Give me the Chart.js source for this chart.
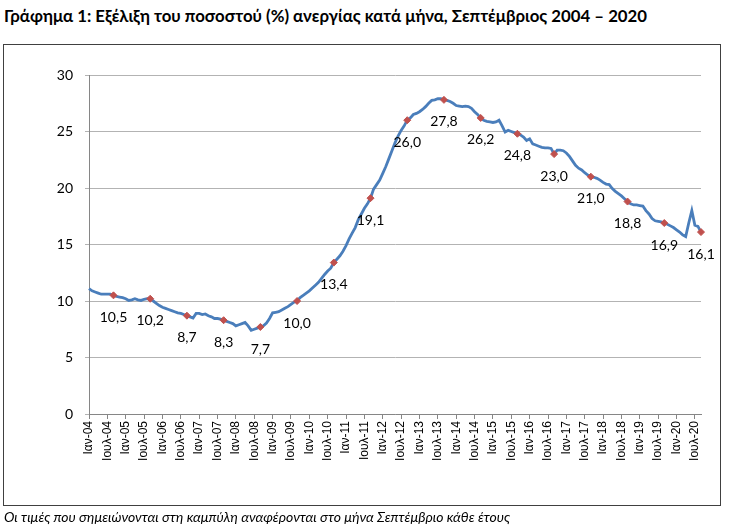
<!DOCTYPE html>
<html>
<head>
<meta charset="utf-8">
<script src="https://cdn.jsdelivr.net/npm/chart.js@4.4.1/dist/chart.umd.min.js"></script>
<style>
    html, body { margin: 0; padding: 0; background: #fff; }
    #wrap { position: relative; width: 731px; height: 530px; overflow: hidden; }
    #title {
        position: absolute; left: 4px; top: 5px;
        font: bold 16.8px Lato, "Open Sans", sans-serif; color: #000; white-space: nowrap;
    }
    #frame {
        position: absolute; left: 3px; top: 44px; width: 718px; height: 462px;
        border: 1px solid #404040; box-sizing: border-box;
    }
    #note {
        position: absolute; left: 4px; top: 508px;
        font: italic 14px Lato, "Open Sans", sans-serif; color: #000; white-space: nowrap;
    }
    canvas { position: absolute; left: 0; top: 0; }
</style>
</head>
<body>
<div id="wrap">
    <div id="title">Γράφημα 1: Εξέλιξη του ποσοστού (%) ανεργίας κατά μήνα, Σεπτέμβριος 2004 – 2020</div>
    <div id="frame"></div>
    <canvas id="lineChart" width="731" height="530"></canvas>
    <div id="note">Οι τιμές που σημειώνονται στη καμπύλη αναφέρονται στο μήνα Σεπτέμβριο κάθε έτους</div>
</div>
<script>
const monthNames = ["Ιαν", "Φεβ", "Μαρ", "Απρ", "Μαϊ", "Ιουν", "Ιουλ", "Αυγ", "Σεπ", "Οκτ", "Νοε", "Δεκ"];
const firstYear = 2004;

// monthly unemployment rate (%), Jan 2004 - Sep 2020
const rates = [
    11.1, 10.9, 10.8, 10.7, 10.6, 10.6, 10.6, 10.6, 10.5, 10.4, 10.35, 10.3,     // 2004
    10.2, 10.05, 10.1, 10.2, 10.1, 10.05, 10.15, 10.2, 10.2, 10.0, 9.8, 9.6,     // 2005
    9.45, 9.35, 9.25, 9.15, 9.05, 8.95, 8.9, 8.8, 8.7, 8.6, 8.5, 8.9,           // 2006
    8.9, 8.8, 8.85, 8.7, 8.6, 8.45, 8.45, 8.4, 8.3, 8.2, 8.1, 8.0,              // 2007
    7.8, 7.9, 8.0, 8.1, 7.8, 7.4, 7.5, 7.6, 7.7, 7.8, 8.05, 8.45,               // 2008
    8.95, 9.0, 9.05, 9.2, 9.35, 9.5, 9.7, 9.9, 10.0, 10.3, 10.5, 10.7,          // 2009
    10.9, 11.15, 11.4, 11.65, 12.0, 12.35, 12.65, 12.9, 13.4, 13.7, 14.0, 14.4, // 2010
    14.9, 15.5, 16.0, 16.5, 17.2, 17.7, 18.2, 18.6, 19.1, 19.9, 20.3, 20.7,     // 2011
    21.3, 21.9, 22.6, 23.3, 24.0, 24.6, 25.1, 25.5, 26.0, 26.2, 26.5, 26.6,     // 2012
    26.75, 26.95, 27.2, 27.5, 27.75, 27.8, 27.9, 27.9, 27.8, 27.75, 27.65, 27.5, // 2013
    27.3, 27.25, 27.2, 27.25, 27.2, 27.05, 26.75, 26.5, 26.2, 26.0, 25.9, 25.85, // 2014
    25.8, 25.85, 26.0, 25.5, 24.95, 25.1, 25.0, 24.9, 24.8, 24.7, 24.5, 24.2,   // 2015
    24.35, 23.9, 23.8, 23.7, 23.6, 23.55, 23.55, 23.5, 23.0, 23.35, 23.35, 23.3, // 2016
    23.1, 22.8, 22.4, 22.0, 21.75, 21.6, 21.35, 21.15, 21.0, 20.95, 20.85, 20.7, // 2017
    20.5, 20.35, 20.3, 19.95, 19.7, 19.5, 19.3, 19.05, 18.8, 18.6, 18.5, 18.5,  // 2018
    18.45, 18.4, 18.0, 17.7, 17.3, 17.1, 17.05, 17.0, 16.9, 16.8, 16.65, 16.5,  // 2019
    16.3, 16.1, 15.85, 15.7, 16.9, 18.0, 16.7, 16.6, 16.1                       // 2020
];

const monthLabels = rates.map((_, i) => {
    const yy = String((firstYear + Math.floor(i / 12)) % 100).padStart(2, "0");
    return `${monthNames[i % 12]}-${yy}`;
});

const SEPT = 8;
const isSept = i => i % 12 === SEPT;

// values of September written under the curve
const septLabelPlugin = {
    id: "septLabels",
    afterDatasetsDraw(chart) {
        const ctx = chart.ctx;
        const meta = chart.getDatasetMeta(0);
        ctx.save();
        ctx.font = "14px Lato, 'Open Sans', sans-serif";
        ctx.fillStyle = "#000";
        ctx.textAlign = "center";
        ctx.textBaseline = "middle";
        meta.data.forEach((pt, i) => {
            if (!isSept(i)) return;
            const txt = rates[i].toFixed(1).replace(".", ",");
            ctx.fillText(txt, pt.x, pt.y + 22);
        });
        ctx.restore();
    }
};

const ctx = document.getElementById("lineChart").getContext("2d");
new Chart(ctx, {
    type: "line",
    data: {
        labels: monthLabels,
        datasets: [{
            data: rates,
            borderColor: "#4a7ebb",
            borderWidth: 2.8,
            tension: 0,
            pointStyle: "rectRot",
            pointRadius: c => isSept(c.dataIndex) ? 3.5 : 0,
            pointHoverRadius: 0,
            pointBackgroundColor: "#c0504d",
            pointBorderColor: "#c0504d",
            pointBorderWidth: 1
        }]
    },
    options: {
        responsive: false,
        animation: false,
        layout: { padding: { left: 0, right: 30, top: 75, bottom: 62 } },
        plugins: {
            legend: { display: false },
            tooltip: { enabled: false }
        },
        scales: {
            x: {
                type: "category",
                offset: false,
                grid: {
                    drawOnChartArea: false,
                    drawTicks: true,
                    tickLength: 5,
                    color: "#868686"
                },
                border: { color: "#868686", width: 1 },
                ticks: {
                    autoSkip: false,
                    maxRotation: 90,
                    minRotation: 90,
                    padding: 2,
                    color: "#000",
                    font: { family: "'Liberation Sans', Arial, sans-serif", size: 12 },
                    callback: (v, i) => i % 6 === 0 ? monthLabels[i] : null
                },
                afterFit: s => { s.height = 54; }
            },
            y: {
                min: 0,
                max: 30,
                ticks: {
                    stepSize: 5,
                    padding: 12,
                    color: "#000",
                    font: { family: "Lato, 'Open Sans', sans-serif", size: 14 }
                },
                grid: { color: "#b3b3b3", drawTicks: true, tickLength: 4 },
                border: { color: "#868686", width: 1 },
                afterFit: s => { s.width = 89; }
            }
        }
    },
    plugins: [septLabelPlugin]
});
</script>
</body>
</html>
